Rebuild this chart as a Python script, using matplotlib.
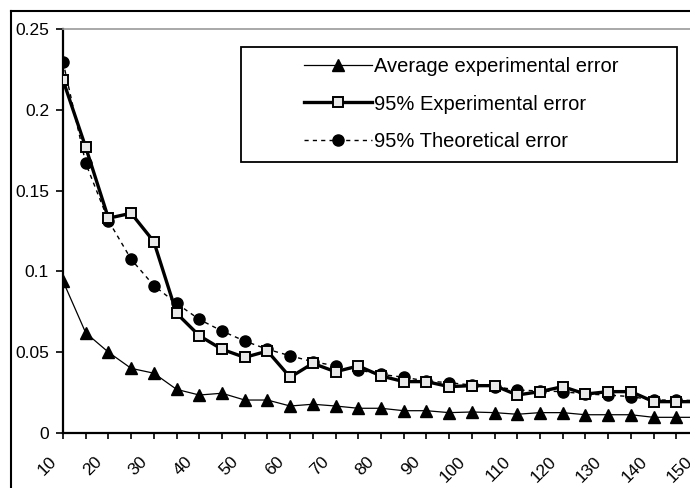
import matplotlib.pyplot as plt
from matplotlib.lines import Line2D
from matplotlib.patches import Rectangle
from matplotlib.transforms import ScaledTranslation

plt.rcParams['font.family'] = ['Liberation Sans', 'DejaVu Sans']

# sample size categories and the three error series
sizes = [10, 15, 20, 25, 30, 35, 40, 45, 50, 55, 60, 65, 70, 75, 80,
         85, 90, 95, 100, 105, 110, 115, 120, 125, 130, 135, 140, 145, 150]
avg_err = [0.094, 0.062, 0.050, 0.040, 0.037, 0.027, 0.0235, 0.0246, 0.0204, 0.0204,
           0.0167, 0.0178, 0.0167, 0.0153, 0.0153, 0.0138, 0.0138, 0.0126, 0.0130, 0.0126,
           0.0116, 0.0126, 0.0126, 0.0113, 0.0113, 0.0113, 0.0097, 0.0097, 0.0097]
exp95_err = [0.2184, 0.1768, 0.1329, 0.1360, 0.1184, 0.0741, 0.0602, 0.0518, 0.0468, 0.0507,
             0.0345, 0.0431, 0.0379, 0.0415, 0.0353, 0.0318, 0.0318, 0.0287, 0.0293, 0.0293,
             0.0235, 0.0256, 0.0287, 0.0241, 0.0256, 0.0256, 0.0194, 0.0194, 0.0194]
theo95_err = [0.2298, 0.1669, 0.1314, 0.1075, 0.0912, 0.0802, 0.0703, 0.0631, 0.0569, 0.0518,
              0.0478, 0.0441, 0.0416, 0.0390, 0.0363, 0.0345, 0.0322, 0.0311, 0.0297, 0.0287,
              0.0266, 0.0260, 0.0256, 0.0241, 0.0235, 0.0225, 0.0204, 0.0204, 0.0200]
y_ticks = [0, 0.05, 0.1, 0.15, 0.2, 0.25]
y_labels = ['0', '0.05', '0.1', '0.15', '0.2', '0.25']
x_labels = [str(s) if i % 2 == 0 else '' for i, s in enumerate(sizes)]

W, H = 690, 488
fig = plt.figure(figsize=(W / 100, H / 100), dpi=100)
# plot area runs past the right edge, the original picture is cropped there
ax = fig.add_axes([63 / W, 55 / H, 636 / W, 404 / H])

ax.plot(sizes, avg_err, color='black', lw=0.9, marker='^', ms=8,
        label='Average experimental error', zorder=3)
ax.plot(sizes, theo95_err, color='black', lw=1.0, ls=(0, (3, 3)), marker='o', ms=8,
        label='95% Theoretical error', zorder=3)
ax.plot(sizes, exp95_err, color='black', lw=2.4, marker='s', ms=6.5, mfc='#e8e8e8',
        mec='black', mew=1.4, label='95% Experimental error', zorder=4)

ax.set_xlim(sizes[0], sizes[-1])
ax.set_ylim(0, 0.25)
ax.set_yticks(y_ticks)
ax.set_yticklabels(y_labels, fontsize=12.5)
ax.set_xticks(sizes)
ax.set_xticklabels(x_labels, fontsize=12.5, rotation=45, ha='right', va='center',
                   rotation_mode='anchor')
ax.tick_params(axis='y', direction='out', length=5, width=1.2, pad=5)
ax.tick_params(axis='x', direction='out', length=4, width=1.2, pad=15)
# nudge the slanted labels left, like the original
shift = ScaledTranslation(-9 / 100, 0, fig.dpi_scale_trans)
for lab in ax.get_xticklabels():
    lab.set_transform(lab.get_transform() + shift)

for s in ['left', 'bottom']:
    ax.spines[s].set_linewidth(1.6)
ax.spines['top'].set_color('#999999')
ax.spines['top'].set_linewidth(1.2)
ax.spines['right'].set_visible(False)

# legend, order as in the original
h, l = ax.get_legend_handles_labels()
order = [0, 2, 1]
leg = fig.legend([h[i] for i in order], [l[i] for i in order],
                 loc='upper left', bbox_to_anchor=(304 / W, 1 - 57 / H),
                 frameon=False, fontsize=14.5, handlelength=3.4, handletextpad=0.1,
                 labelspacing=0.92, borderpad=0, borderaxespad=0)
fig.add_artist(Rectangle((241 / W, 1 - 162 / H), 436 / W, 115 / H, transform=fig.transFigure,
                         fill=False, edgecolor='black', lw=1.3))

# outer chart border (cropped on the right and bottom)
fig.add_artist(Line2D([11 / W, 11 / W], [0, 1 - 11 / H], transform=fig.transFigure,
                      color='black', lw=1.5))
fig.add_artist(Line2D([11 / W, 1], [1 - 11 / H, 1 - 11 / H], transform=fig.transFigure,
                      color='black', lw=1.5))

fig.savefig('out.png', dpi=100)
